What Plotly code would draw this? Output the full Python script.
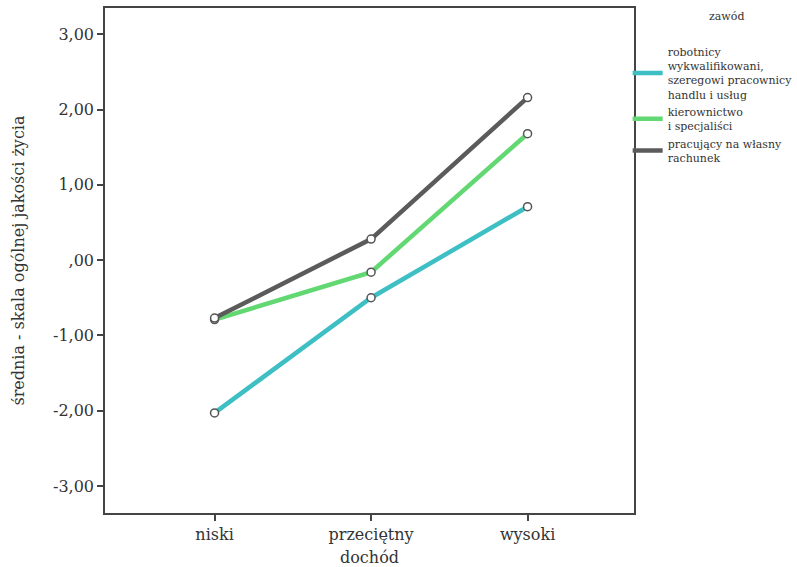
import plotly.graph_objects as go

# income levels (x categories)
dochod = ["niski", "przeciętny", "wysoki"]

# mean overall quality-of-life scale, per occupation group
robotnicy = [-2.03, -0.50, 0.71]
kierownictwo = [-0.79, -0.16, 1.68]
wlasny_rachunek = [-0.77, 0.28, 2.16]

series_names = [
    "robotnicy<br>wykwalifikowani,<br>szeregowi pracownicy<br>handlu i usług",
    "kierownictwo<br>i specjaliści",
    "pracujący na własny<br>rachunek",
]
series_colors = ["#3dbfc4", "#62d872", "#5b5b5b"]

y_tickvals = [3, 2, 1, 0, -1, -2, -3]
y_ticktext = ["3,00", "2,00", "1,00", ",00", "-1,00", "-2,00", "-3,00"]

FONT = "DejaVu Serif"
INK = "#333333"

fig = go.Figure()
for name, vals, col in zip(series_names, [robotnicy, kierownictwo, wlasny_rachunek], series_colors):
    # line (shown in legend as a plain stroke)
    fig.add_trace(go.Scatter(
        x=dochod, y=vals, name=name, mode="lines",
        line=dict(color=col, width=4.5),
    ))
    # open circle markers at each mean
    fig.add_trace(go.Scatter(
        x=dochod, y=vals, mode="markers", showlegend=False, hoverinfo="skip",
        marker=dict(size=8, color="white", line=dict(color="#555555", width=1.5)),
    ))

fig.update_layout(
    width=797, height=567,
    margin=dict(l=105, r=163, t=8, b=54, autoexpand=False),
    paper_bgcolor="white", plot_bgcolor="white",
    font=dict(family=FONT, color=INK, size=15),
    legend=dict(
        x=0.988, xanchor="left", y=0.941, yanchor="top",
        font=dict(size=11, family=FONT, color=INK),
        itemwidth=30,
        bgcolor="rgba(0,0,0,0)",
    ),
    annotations=[dict(
        text="zawód", xref="paper", yref="paper", x=1.175, y=1.0,
        xanchor="center", yanchor="top", showarrow=False,
        font=dict(size=11, family=FONT, color=INK),
    )],
)

fig.update_xaxes(
    type="category", range=[-0.7, 2.68],
    showline=True, linecolor="#444444", linewidth=1.5, mirror=True,
    ticks="outside", ticklen=6, tickcolor="#444444", tickwidth=1.5,
    showgrid=False, zeroline=False,
    tickfont=dict(size=16, family=FONT, color=INK),
    title=dict(text="dochód", font=dict(size=16, family=FONT, color=INK), standoff=10),
)
fig.update_yaxes(
    range=[-3.36, 3.35],
    tickvals=y_tickvals, ticktext=y_ticktext,
    showline=True, linecolor="#444444", linewidth=1.5, mirror=True,
    ticks="outside", ticklen=6, tickcolor="#444444", tickwidth=1.5,
    showgrid=False, zeroline=False,
    tickfont=dict(size=16, family=FONT, color=INK),
    title=dict(text="średnia - skala ogólnej jakości życia", font=dict(size=16, family=FONT, color=INK), standoff=24),
)

fig.write_html("out.html")
